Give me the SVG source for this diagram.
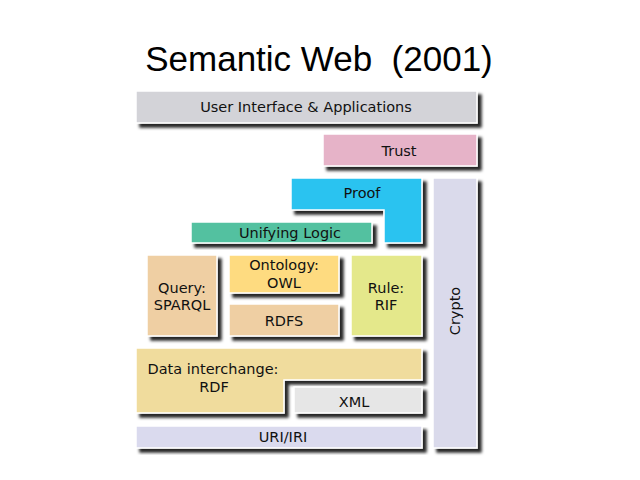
<svg xmlns="http://www.w3.org/2000/svg" width="640" height="480" viewBox="0 0 640 480">
<defs>
<filter id="sh" x="-10%" y="-10%" width="130%" height="140%">
<feGaussianBlur in="SourceAlpha" stdDeviation="1.4" result="b"/>
<feOffset in="b" dx="4" dy="4" result="o"/>
<feFlood flood-color="#000" flood-opacity="0.85"/>
<feComposite in2="o" operator="in" result="s"/>
<feMerge><feMergeNode in="s"/><feMergeNode in="SourceGraphic"/></feMerge>
</filter>
</defs>
<style>
.b{stroke:#fff;stroke-width:1.5;filter:url(#sh)}
.t{font-family:"DejaVu Sans",Verdana,sans-serif;font-size:14.5px;fill:#111;text-anchor:middle}
.title{font-family:"Liberation Sans",Arial,sans-serif;font-size:35px;fill:#000;text-anchor:middle}
</style>
<rect width="640" height="480" fill="#fff"/>
<text class="title" x="319" y="71" xml:space="preserve">Semantic Web  (2001)</text>
<g id="ui"><rect class="b" x="136" y="91" width="341" height="32" fill="#d3d3d8"/><text class="t" x="306" y="112">User Interface &amp; Applications</text></g>
<g id="trust"><rect class="b" x="323" y="134" width="154" height="32" fill="#e6b3c8"/><text class="t" x="399" y="156">Trust</text></g>
<g id="crypto"><rect class="b" x="433" y="178" width="44" height="270" fill="#dadaeb"/><text class="t" transform="translate(460,311) rotate(-90)">Crypto</text></g>
<g id="proof"><path class="b" d="M291,178 H422 V243 H384 V210 H291 Z" fill="#2cc3f0"/><text class="t" x="362" y="198">Proof</text></g>
<g id="logic"><rect class="b" x="191" y="222" width="181" height="21" fill="#53c1a0"/><text class="t" x="290" y="238">Unifying Logic</text></g>
<g id="query"><rect class="b" x="147" y="255" width="70" height="81" fill="#efcfa3"/><text class="t" x="182" y="293">Query:</text><text class="t" x="182" y="310">SPARQL</text></g>
<g id="owl"><rect class="b" x="229" y="255" width="110" height="38" fill="#fedb80"/><text class="t" x="284" y="270">Ontology:</text><text class="t" x="284" y="288">OWL</text></g>
<g id="rdfs"><rect class="b" x="229" y="304" width="110" height="32" fill="#efcfa3"/><text class="t" x="284" y="326">RDFS</text></g>
<g id="rif"><rect class="b" x="351" y="255" width="71" height="81" fill="#e4e88b"/><text class="t" x="386" y="293">Rule:</text><text class="t" x="386" y="310">RIF</text></g>
<g id="rdf"><path class="b" d="M136,348 H422 V380 H284 V413 H136 Z" fill="#f0dc9d"/><text class="t" x="213" y="374">Data interchange:</text><text class="t" x="214" y="392">RDF</text></g>
<g id="xml"><rect class="b" x="294" y="387" width="128" height="26" fill="#e6e6e6"/><text class="t" x="354" y="407">XML</text></g>
<g id="uri"><rect class="b" x="136" y="426" width="286" height="22" fill="#dadaee"/><text class="t" x="283" y="442">URI/IRI</text></g>
<g id="connectors"/>
</svg>
